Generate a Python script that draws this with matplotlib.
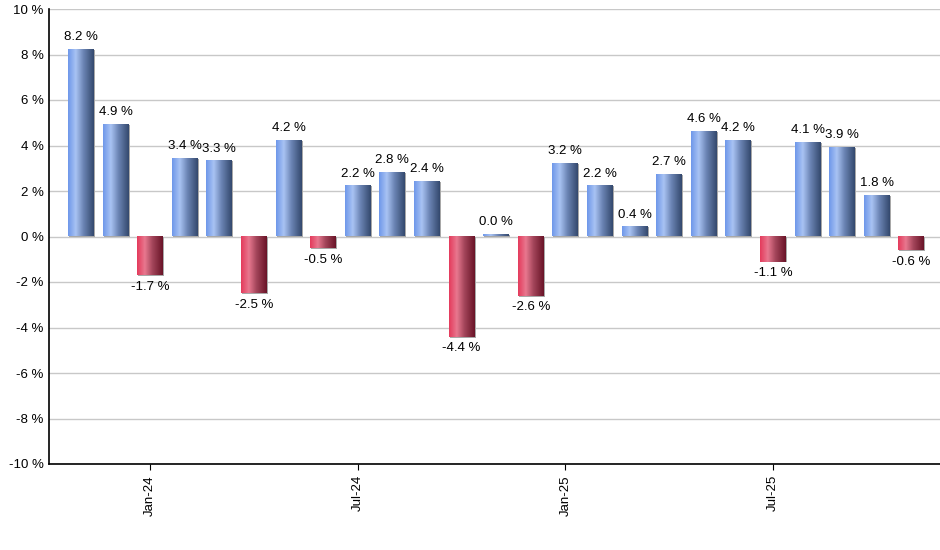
import matplotlib.pyplot as plt
import numpy as np
from matplotlib.colors import LinearSegmentedColormap

plt.rcParams['font.family'] = ['Liberation Sans', 'DejaVu Sans']

months = ["Nov-23", "Dec-23", "Jan-24", "Feb-24", "Mar-24", "Apr-24", "May-24",
          "Jun-24", "Jul-24", "Aug-24", "Sep-24", "Oct-24", "Nov-24", "Dec-24",
          "Jan-25", "Feb-25", "Mar-25", "Apr-25", "May-25", "Jun-25", "Jul-25",
          "Aug-25", "Sep-25", "Oct-25", "Nov-25"]
returns = [8.2, 4.9, -1.7, 3.4, 3.3, -2.5, 4.2, -0.5, 2.2, 2.8, 2.4, -4.4, 0.0,
           -2.6, 3.2, 2.2, 0.4, 2.7, 4.6, 4.2, -1.1, 4.1, 3.9, 1.8, -0.6]
tick_labels = ["Jan-24", "Jul-24", "Jan-25", "Jul-25"]

blue = LinearSegmentedColormap.from_list(
    "blue", [(0, "#6f98ea"), (0.3, "#a9c3f3"), (0.6, "#6b84b4"), (1, "#34496e")])
red = LinearSegmentedColormap.from_list(
    "red", [(0, "#e43b5c"), (0.3, "#e8788f"), (0.6, "#a3455a"), (1, "#6a1428")])
grad = np.linspace(0, 1, 64).reshape(1, -1)

fig = plt.figure(figsize=(9.4, 5.5), dpi=100)
ax = fig.add_axes([49 / 940, (550 - 464) / 550, 891 / 940, 455 / 550])

x = np.arange(len(returns))
w = 0.75
for xi, v in zip(x, returns):
    lo, hi = min(0, v), max(0, v)
    if hi - lo < 0.08:
        hi = lo + 0.08
    # thin grey shadow on right side
    ax.add_patch(plt.Rectangle((xi - w / 2 + 0.03, lo - (0.04 if v < 0 else 0)),
                               w, hi - lo, color="#a8a8a8", lw=0, zorder=2))
    ax.imshow(grad, cmap=blue if v >= 0 else red, aspect="auto",
              extent=(xi - w / 2, xi + w / 2, lo, hi), zorder=3)
    if v >= 0:
        ax.text(xi, hi + 0.3, f"{v:.1f} %", ha="center", va="bottom", fontsize=9.5)
    else:
        ax.text(xi, lo - 0.25, f"{v:.1f} %", ha="center", va="top", fontsize=9.5)

ax.set_xlim(-0.925, 24.83)
ax.set_ylim(-10, 10)
ax.set_yticks(np.arange(-10, 11, 2))
ax.set_yticklabels([f"{t} %" for t in range(-10, 11, 2)], fontsize=9.5)
ax.set_xticks([months.index(m) for m in tick_labels])
ax.set_xticklabels(tick_labels, rotation=90, fontsize=9.5)
ax.grid(axis="y", color="#c8c8c8", lw=1)
ax.set_axisbelow(True)
for s in ["top", "right"]:
    ax.spines[s].set_visible(False)
ax.spines["left"].set_linewidth(1.2)
ax.spines["bottom"].set_linewidth(1.2)
ax.tick_params(axis="y", length=0, pad=4)
ax.tick_params(axis="x", length=4, pad=4)

fig.savefig("out.png", dpi=100)
